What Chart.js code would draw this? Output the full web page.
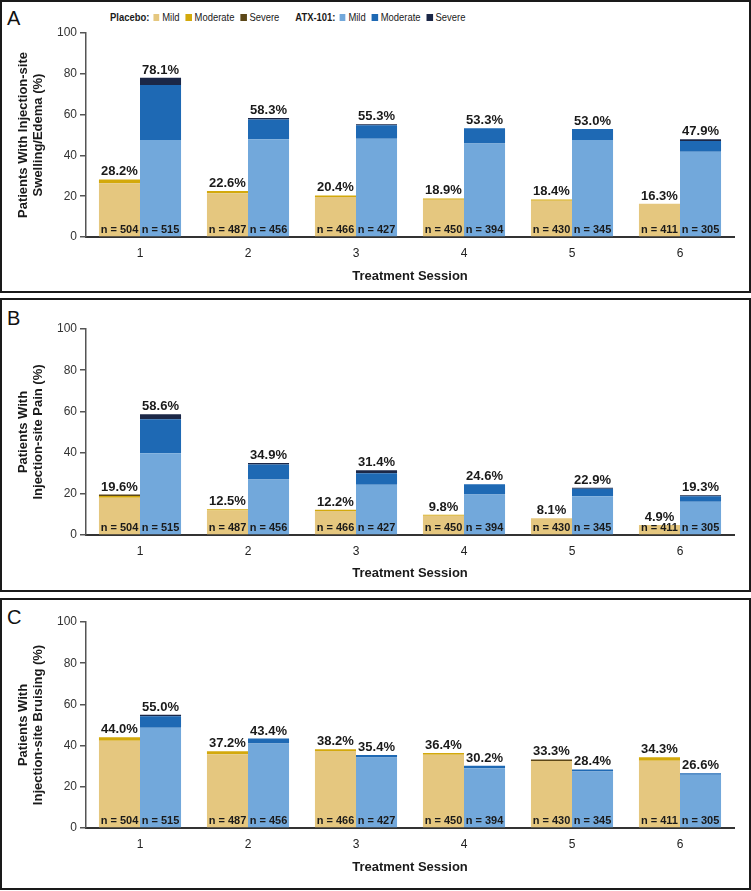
<!DOCTYPE html>
<html>
<head>
<meta charset="utf-8">
<script src="https://cdn.jsdelivr.net/npm/chart.js@4.4.0/dist/chart.umd.min.js"></script>
<style>
body { margin: 0; background: #fff; width: 751px; height: 891px; position: relative; overflow: hidden; font-family: 'Liberation Sans', Arial, sans-serif; }
.panel { position: absolute; left: 0; width: 751px; box-sizing: border-box; border: 2px solid #1a1a1a; }
canvas.chart { position: absolute; left: 0; }
.letter { position: absolute; left: 7px; font-size: 20px; line-height: 20px; color: #111; }
/* legend font in the figure is a narrow sans, squeeze a normal one */
#legend { position: absolute; left: 110px; top: 11px; display: flex; align-items: center; font-size: 11.5px; line-height: 12px; color: #1a1a1a; transform: scaleX(0.82); transform-origin: 0 0; white-space: nowrap; }
#legend b { margin-right: 5px; }
#legend .sq { display: inline-block; width: 7.3px; height: 7px; margin-right: 3.5px; }
#legend .lab { margin-right: 7.5px; }
#legend .grp { display: flex; align-items: center; margin-right: 12px; }
</style>
</head>
<body>
<div id="legend"></div>

<div class="panel" style="top:0;height:293px"></div>
<div class="panel" style="top:298px;height:294px"></div>
<div class="panel" style="top:598px;height:292px"></div>
<div class="letter" style="top:8px">A</div>
<div class="letter" style="top:308px">B</div>
<div class="letter" style="top:607px">C</div>

<canvas class="chart" id="chartA" width="751" height="293" style="top:0"></canvas>
<canvas class="chart" id="chartB" width="751" height="294" style="top:298px"></canvas>
<canvas class="chart" id="chartC" width="751" height="292" style="top:598px"></canvas>

<script>
// categories and sample sizes
var sessions = ['1', '2', '3', '4', '5', '6'];
var nPlacebo = [504, 487, 466, 450, 430, 411];
var nAtx = [515, 456, 427, 394, 345, 305];
var severities = ['Mild', 'Moderate', 'Severe'];
var groups = ['Placebo:', 'ATX-101:'];
var yTicks = [0, 20, 40, 60, 80, 100];

// A - swelling/edema
var plTotalA = [28.2, 22.6, 20.4, 18.9, 18.4, 16.3];
var atxTotalA = [78.1, 58.3, 55.3, 53.3, 53.0, 47.9];
var plMildA = [26.4, 21.5, 19.6, 18.2, 17.8, 16.3];
var plModA = [1.8, 1.1, 0.8, 0.7, 0.6, 0];
var plSevA = [0, 0, 0, 0, 0, 0];
var atxMildA = [47.6, 47.9, 48.2, 45.8, 47.6, 41.8];
var atxModA = [26.9, 9.7, 6.6, 7.5, 5.4, 5.3];
var atxSevA = [3.6, 0.7, 0.5, 0, 0, 0.8];

// B - pain
var plTotalB = [19.6, 12.5, 12.2, 9.8, 8.1, 4.9];
var atxTotalB = [58.6, 34.9, 31.4, 24.6, 22.9, 19.3];
var plMildB = [18.1, 11.9, 11.7, 9.3, 8.1, 4.9];
var plModB = [0.8, 0.6, 0.5, 0.5, 0, 0];
var plSevB = [0.7, 0, 0, 0, 0, 0];
var atxMildB = [39.7, 27.0, 24.4, 19.6, 18.8, 16.2];
var atxModB = [16.5, 7.2, 5.6, 5.0, 3.7, 2.6];
var atxSevB = [2.4, 0.7, 1.4, 0, 0.4, 0.5];

// C - bruising
var plTotalC = [44.0, 37.2, 38.2, 36.4, 33.3, 34.3];
var atxTotalC = [55.0, 43.4, 35.4, 30.2, 28.4, 26.6];
var plMildC = [42.3, 35.8, 37.4, 35.6, 32.5, 32.7];
var plModC = [1.7, 1.4, 0.8, 0.8, 0, 1.6];
var plSevC = [0, 0, 0, 0, 0.8, 0];
var atxMildC = [48.7, 41.0, 34.2, 29.0, 27.4, 25.9];
var atxModC = [5.5, 2.4, 1.2, 1.2, 1.0, 0.7];
var atxSevC = [0.8, 0, 0, 0, 0, 0];

var plColors = ['#e5c77f', '#d3a90c', '#5c4718'];
var atxColors = ['#72a8db', '#1e69b4', '#1b2747'];
var FONT = "'Liberation Sans', Arial, sans-serif";

// legend (html, top of the figure)
var leg = document.getElementById('legend');
[plColors, atxColors].forEach(function (cols, g) {
    var grp = document.createElement('div');
    grp.className = 'grp';
    grp.innerHTML = '<b>' + groups[g] + '</b>';
    severities.forEach(function (s, k) {
        grp.innerHTML += '<span class="sq" style="background:' + cols[k] + '"></span><span class="lab">' + s + '</span>';
    });
    leg.appendChild(grp);
});

// labels: totals above the stacks, n at the bottom of bars
function makeLabels(plTotal, atxTotal) {
    return {
        id: 'barLabels',
        afterDatasetsDraw: function (chart) {
            var ctx = chart.ctx;
            var y = chart.scales.y;
            var zero = y.getPixelForValue(0);
            var pm = chart.getDatasetMeta(0), am = chart.getDatasetMeta(3);
            ctx.save();
            ctx.textAlign = 'center';
            ctx.textBaseline = 'alphabetic';
            ctx.fillStyle = '#1a1a1a';
            for (var i = 0; i < sessions.length; i++) {
                ctx.font = 'bold 13px ' + FONT;
                ctx.fillText(plTotal[i].toFixed(1) + '%', pm.data[i].x, y.getPixelForValue(plTotal[i]) - 4);
                ctx.fillText(atxTotal[i].toFixed(1) + '%', am.data[i].x, y.getPixelForValue(atxTotal[i]) - 4);
                ctx.font = 'bold 11px ' + FONT;
                ctx.fillText('n = ' + nPlacebo[i], pm.data[i].x, zero - 4);
                ctx.fillText('n = ' + nAtx[i], am.data[i].x, zero - 4);
            }
            ctx.restore();
        }
    };
}

function makeChart(id, title, series, plTotal, atxTotal, topPad, xHeight, titlePad) {
    var datasets = [];
    for (var k = 0; k < 3; k++) {
        datasets.push({ label: 'Placebo ' + severities[k], data: series[k], backgroundColor: plColors[k], stack: 'placebo' });
    }
    for (var k = 0; k < 3; k++) {
        datasets.push({ label: 'ATX-101 ' + severities[k], data: series[k + 3], backgroundColor: atxColors[k], stack: 'atx' });
    }
    var ctx = document.getElementById(id).getContext('2d');
    return new Chart(ctx, {
        type: 'bar',
        data: { labels: sessions, datasets: datasets },
        options: {
            responsive: false,
            animation: false,
            categoryPercentage: 0.76,
            barPercentage: 1.0,
            borderWidth: 0,
            layout: { padding: { top: topPad, right: 17, left: 0, bottom: 0 } },
            plugins: { legend: { display: false }, tooltip: { enabled: false } },
            scales: {
                x: {
                    stacked: true,
                    grid: { display: false },
                    border: { display: true, color: '#333', width: 2 },
                    ticks: { color: '#222', font: { size: 12, family: FONT }, padding: 1 },
                    title: { display: true, text: 'Treatment Session', color: '#1a1a1a', font: { size: 13, weight: 'bold', family: FONT }, padding: { top: 0, bottom: titlePad } },
                    afterFit: function (s) { s.height = xHeight; }
                },
                y: {
                    stacked: true,
                    min: 0,
                    max: 100,
                    afterBuildTicks: function (s) { s.ticks = yTicks.map(function (v) { return { value: v }; }); },
                    grid: { drawOnChartArea: false, drawTicks: true, tickLength: 6, color: '#555', lineWidth: 1.5 },
                    border: { display: true, color: '#555', width: 1.5 },
                    ticks: { color: '#333', font: { size: 12, family: FONT }, padding: 3 },
                    title: { display: true, text: title, color: '#1a1a1a', font: { size: 13, weight: 'bold', family: FONT, lineHeight: 1.15 }, padding: { top: 15.5, bottom: 0 } },
                    afterFit: function (s) { s.width = 86; }
                }
            }
        },
        plugins: [makeLabels(plTotal, atxTotal)]
    });
}

makeChart('chartA', ['Patients With Injection-site', 'Swelling/Edema (%)'],
    [plMildA, plModA, plSevA, atxMildA, atxModA, atxSevA], plTotalA, atxTotalA, 33, 56, 9);
makeChart('chartB', ['Patients With', 'Injection-site Pain (%)'],
    [plMildB, plModB, plSevB, atxMildB, atxModB, atxSevB], plTotalB, atxTotalB, 31, 57, 11);
makeChart('chartC', ['Patients With', 'Injection-site Bruising (%)'],
    [plMildC, plModC, plSevC, atxMildC, atxModC, atxSevC], plTotalC, atxTotalC, 24, 62, 15);
</script>
</body>
</html>
